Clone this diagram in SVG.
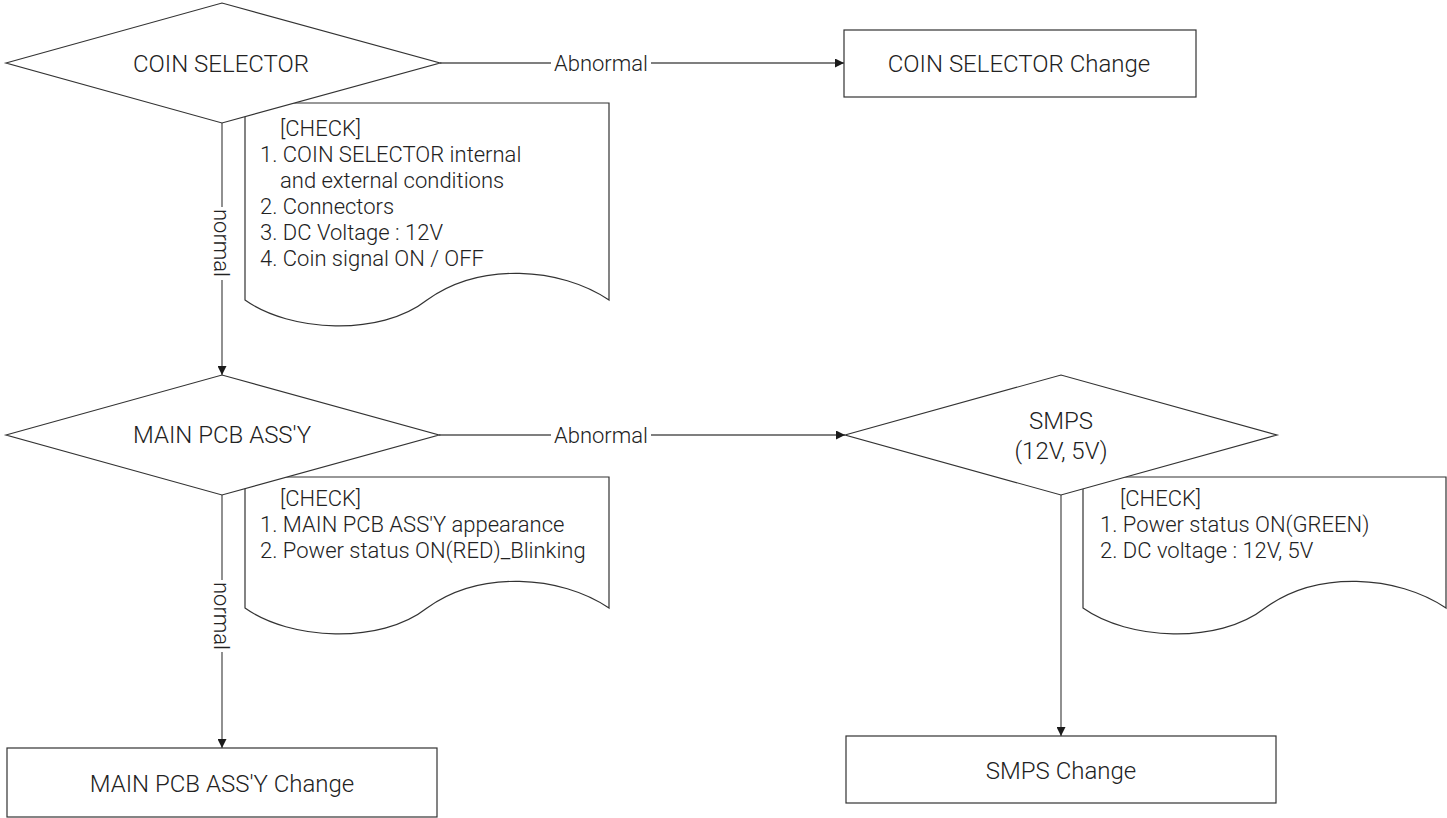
<svg xmlns="http://www.w3.org/2000/svg" width="1447" height="818" viewBox="0 0 1447 818">
<defs>
<marker id="arr" viewBox="0 0 10 10" refX="10" refY="5" markerWidth="9" markerHeight="9" markerUnits="userSpaceOnUse" orient="auto">
<path d="M0,0 L10,5 L0,10 z" fill="#1a1a1a"/>
</marker>
</defs>
<style>
.shape{fill:#fff;stroke:#333;stroke-width:1.2}
.doc{fill:#fff;stroke:#333;stroke-width:1.2}
.conn{stroke:#555;stroke-width:1.3;fill:none}
.lbl{font-family:Roboto,"Noto Sans",sans-serif;font-weight:300;font-size:24px;fill:#222;text-anchor:middle}
.chk{font-family:Roboto,"Noto Sans",sans-serif;font-weight:300;font-size:22px;fill:#222}
.edge{font-family:Roboto,"Noto Sans",sans-serif;font-weight:300;font-size:22px;fill:#222;text-anchor:middle}
</style>
<rect width="1447" height="818" fill="#fff"/>
<g id="connectors">
<line class="conn" x1="440" y1="63" x2="551" y2="63"/>
<line class="conn" x1="651" y1="63" x2="844" y2="63" marker-end="url(#arr)"/>
<text class="edge" x="601" y="71">Abnormal</text>
<line class="conn" x1="222" y1="123" x2="222" y2="207"/>
<line class="conn" x1="222" y1="280" x2="222" y2="375" marker-end="url(#arr)"/>
<text class="edge" transform="translate(214,243) rotate(90)">normal</text>
<line class="conn" x1="439" y1="435" x2="551" y2="435"/>
<line class="conn" x1="651" y1="435" x2="845" y2="435" marker-end="url(#arr)"/>
<text class="edge" x="601" y="443">Abnormal</text>
<line class="conn" x1="222" y1="495" x2="222" y2="580"/>
<line class="conn" x1="222" y1="652" x2="222" y2="748" marker-end="url(#arr)"/>
<text class="edge" transform="translate(214,616) rotate(90)">normal</text>
<line class="conn" x1="1061" y1="495" x2="1061" y2="736" marker-end="url(#arr)"/>
</g>
<g id="doc-coin-check">
<path class="doc" d="M245,300 L245,103 L609,103 L609,300 C560,267 480,262 427,300 C380,337 290,332 245,300 Z"/>
<text class="chk" x="280" y="136">[CHECK]</text>
<text class="chk" x="260" y="162">1. COIN SELECTOR internal</text>
<text class="chk" x="280" y="188">and external conditions</text>
<text class="chk" x="260" y="214">2. Connectors</text>
<text class="chk" x="260" y="240">3. DC Voltage : 12V</text>
<text class="chk" x="260" y="266">4. Coin signal ON / OFF</text>
</g>
<g id="coin-selector">
<polygon class="shape" points="6,63 222,3 440,63 222,123"/>
<text class="lbl" x="221" y="72">COIN SELECTOR</text>
</g>
<g id="coin-selector-change">
<rect class="shape" x="844" y="30" width="352" height="67"/>
<text class="lbl" x="1019" y="72">COIN SELECTOR Change</text>
</g>
<g id="doc-main-check">
<path class="doc" d="M245,608 L245,477 L609,477 L609,608 C560,575 480,570 427,608 C380,645 290,640 245,608 Z"/>
<text class="chk" x="280" y="506">[CHECK]</text>
<text class="chk" x="260" y="532">1. MAIN PCB ASS'Y appearance</text>
<text class="chk" x="260" y="558">2. Power status ON(RED)_Blinking</text>
</g>
<g id="main-pcb">
<polygon class="shape" points="6,435 222,375 439,435 222,495"/>
<text class="lbl" x="222" y="443">MAIN PCB ASS'Y</text>
</g>
<g id="main-pcb-change">
<rect class="shape" x="7" y="748" width="430" height="69"/>
<text class="lbl" x="222" y="792">MAIN PCB ASS'Y Change</text>
</g>
<g id="doc-smps-check">
<path class="doc" d="M1083,608 L1083,477 L1446,477 L1446,608 C1397,575 1317,570 1265,608 C1218,645 1128,640 1083,608 Z"/>
<text class="chk" x="1120" y="506">[CHECK]</text>
<text class="chk" x="1100" y="532">1. Power status ON(GREEN)</text>
<text class="chk" x="1100" y="558">2. DC voltage : 12V, 5V</text>
</g>
<g id="smps">
<polygon class="shape" points="845,435 1061,375 1277,435 1061,495"/>
<text class="lbl" x="1061" y="429">SMPS</text>
<text class="lbl" x="1061" y="459">(12V, 5V)</text>
</g>
<g id="smps-change">
<rect class="shape" x="846" y="736" width="430" height="67"/>
<text class="lbl" x="1061" y="779">SMPS Change</text>
</g>
</svg>
